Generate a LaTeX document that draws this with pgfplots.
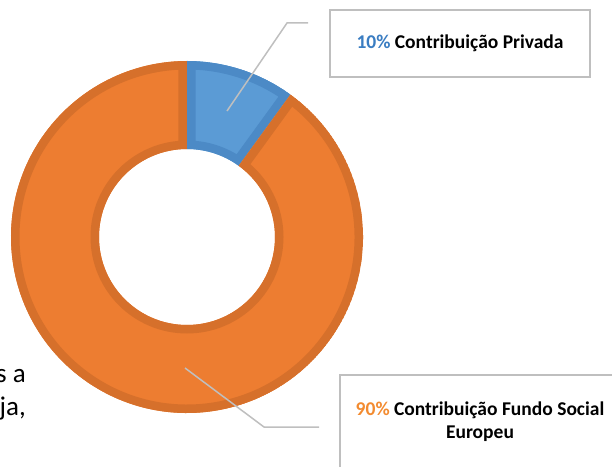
\documentclass[border=0pt]{standalone}
\usepackage{pgfplots}
\pgfplotsset{compat=1.18}
\usepackage{pgfplotstable}
\usepackage{fontspec}
\setmainfont{Carlito}

\definecolor{fseblue}{HTML}{5B9BD5}
\definecolor{fseblueedge}{HTML}{4C8AC6}
\definecolor{fseorange}{HTML}{ED7D31}
\definecolor{fseorangeedge}{HTML}{D6702B}
\definecolor{leader}{HTML}{BFBFBF}
\definecolor{pctblue}{HTML}{3A7DC2}
\definecolor{pctorange}{HTML}{F38B30}

% shares of the two contributions (%)
\pgfplotstableread{
share part
10 Privada
90 FSE
}\shares

\pgfplotstablegetelem{0}{share}\of\shares \let\sA\pgfplotsretval
\pgfplotstablegetelem{1}{share}\of\shares \let\sB\pgfplotsretval
\pgfmathsetmacro\angAB{90-360*(\sA/(\sA+\sB))}
\pgfmathsetmacro\angEnd{\angAB-360*(\sB/(\sA+\sB))}

% ring sector between two angles, outer 176, inner 88
\newcommand\sector[2]{(#1:176pt) arc[start angle=#1, end angle=#2, radius=176pt]
  -- (#2:88pt) arc[start angle=#2, end angle=#1, radius=88pt] -- cycle}
\newcommand\slice[4]{%
  \begin{scope}
    \clip \sector{#1}{#2};
    \fill[#3] \sector{#1}{#2};
    \draw[#4, line width=17pt] \sector{#1}{#2};
  \end{scope}}

\begin{document}
\begin{tikzpicture}
\useasboundingbox (0,0) rectangle (612pt,466pt);
\begin{axis}[
    at={(0,0)}, anchor=origin,
    width=612pt, height=466pt, scale only axis,
    xmin=0, xmax=612, ymin=0, ymax=466,
    hide axis,
  ]
  \begin{scope}[shift={(axis cs:187,229)}]
    \slice{90}{\angAB}{fseblue}{fseblueedge}
    \slice{\angAB}{\angEnd}{fseorange}{fseorangeedge}
  \end{scope}

  % leader lines
  \draw[leader, line width=1.5pt] (axis cs:227,355) -- (axis cs:287,443) -- (axis cs:308,443);
  \draw[leader, line width=1.5pt] (axis cs:185,98) -- (axis cs:264,39) -- (axis cs:319,39);

  % label boxes
  \draw[leader, line width=1.5pt, fill=white] (axis cs:330,389) rectangle (axis cs:590,456);
  \node[font=\fontsize{19.5}{23}\selectfont\bfseries] at (axis cs:460,423)
    {\textcolor{pctblue}{10\%} Contribuição Privada};
  \draw[leader, line width=1.5pt, fill=white] (axis cs:340,-10) rectangle (axis cs:625,91);
  \node[font=\fontsize{19.5}{23}\selectfont\bfseries, align=center] at (axis cs:480,44)
    {\textcolor{pctorange}{90\%} Contribuição Fundo Social\\Europeu};

  % surrounding body text
  \node[anchor=base east, font=\fontsize{27}{33}\selectfont, inner sep=0pt] at (axis cs:26,84) {s a};
  \node[anchor=base east, font=\fontsize{27}{33}\selectfont, inner sep=0pt] at (axis cs:26,51) {ja,};
\end{axis}
\end{tikzpicture}
\end{document}
